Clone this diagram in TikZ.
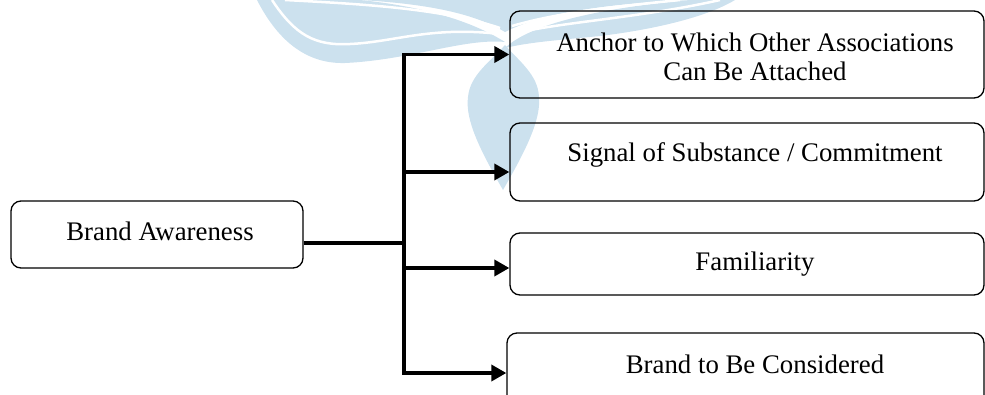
\documentclass[tikz,border=0pt]{standalone}
\usepackage{fontspec}
\setmainfont{Liberation Serif}
\usetikzlibrary{arrows.meta}
\definecolor{wm}{RGB}{204,225,238}
\begin{document}
\begin{tikzpicture}[x=1pt,y=-1pt,
  box/.style={draw=black,line width=1.3pt,rounded corners=10pt,inner sep=0pt},
  lbl/.style={font=\fontsize{26.8}{29}\selectfont,align=center,inner sep=0pt},
  conn/.style={line width=3.6pt,draw=black},
  arr/.style={conn,-{Triangle[length=15pt,width=16pt]}}]
\useasboundingbox (0,0) rectangle (985,394);
\begin{scope}
\clip (0,0) rectangle (985,394);
% watermark
\fill[wm] (257,0) .. controls (280,45) and (310,64) .. (345,63)
  .. controls (410,60) and (465,38) .. (505,42)
  .. controls (470,20) and (420,6) .. (360,0) -- cycle;
\fill[wm] (360,0) .. controls (430,4) and (475,14) .. (505,32)
  .. controls (540,14) and (600,4) .. (690,0) -- cycle;
\fill[wm] (735,0) .. controls (705,18) and (650,30) .. (600,36)
  .. controls (560,40) and (530,42) .. (505,48)
  .. controls (530,24) and (600,8) .. (690,0) -- cycle;
\draw[white,line width=2.5pt] (272,0) .. controls (295,35) and (315,46) .. (350,44)
  .. controls (395,42) and (430,26) .. (500,34);
\draw[white,line width=2.5pt] (285,0) .. controls (360,4) and (440,8) .. (500,28);
\draw[white,line width=2.5pt] (512,34) .. controls (560,22) and (640,18) .. (720,0);
\draw[white,line width=2.5pt] (512,26) .. controls (560,12) and (620,6) .. (680,0);
\fill[wm] (503,190) .. controls (480,150) and (465,120) .. (468,97)
  .. controls (470,75) and (490,62) .. (505,45)
  .. controls (520,62) and (538,75) .. (539,97)
  .. controls (541,120) and (526,150) .. (503,190) -- cycle;
% boxes
\node[box,minimum width=292pt,minimum height=67pt] (BA) at (157,234.5) {};
\node[lbl] at (160,231) {Brand Awareness};
\node[box,minimum width=474pt,minimum height=87pt] (A1) at (747,54.5) {};
\node[lbl] at (755,57) {Anchor to Which Other Associations\\Can Be Attached};
\node[box,minimum width=474pt,minimum height=78pt] (A2) at (747,162) {};
\node[lbl] at (755,155) {Signal of Substance / Commitment};
\node[box,minimum width=474pt,minimum height=62pt] (A3) at (747,264) {};
\node[lbl] at (755,264) {Familiarity};
\node[box,minimum width=477pt,minimum height=80pt] (A4) at (745.5,373) {};
\node[lbl] at (755,364) {Brand to Be Considered};
% connectors
\coordinate (j) at (404,243);
\draw[conn] ([yshift=-8.5pt]BA.east) -- (j);
\draw[arr] (j) |- (A1.west);
\draw[arr] (j) |- ([yshift=-10pt]A2.west);
\draw[arr] (j) |- ([yshift=-4pt]A3.west);
\draw[arr] (j) |- (A4.west);
\end{scope}
\end{tikzpicture}
\end{document}
